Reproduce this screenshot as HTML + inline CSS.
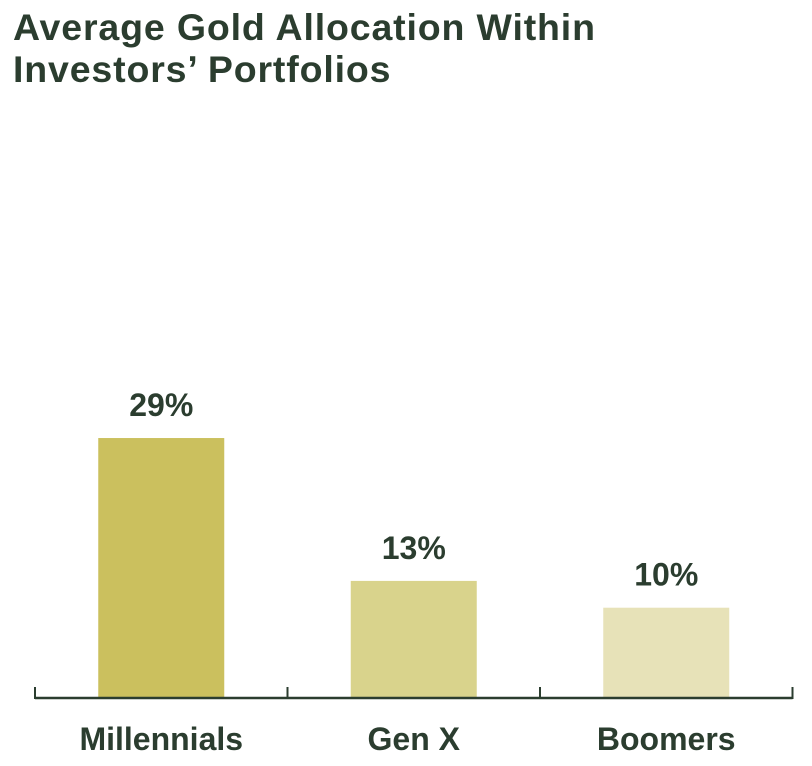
<!DOCTYPE html>
<html><head><meta charset="utf-8"><style>
body{margin:0;background:#fff;width:812px;height:766px;overflow:hidden;font-family:"Liberation Sans",Arial,sans-serif}
h1{position:absolute;left:13px;top:6px;margin:0;font-size:37.5px;line-height:42px;font-weight:bold;color:#2b3d2f;letter-spacing:0.85px}
svg{position:absolute;left:0;top:0}
</style></head><body>
<h1>Average Gold Allocation Within<br>Investors’ Portfolios</h1>
<svg id="c" width="812" height="766"></svg>
<script>
const categories=["Millennials","Gen X","Boomers"];
const values=[29,13,10];
const valueLabels=["29%","13%","10%"];
const colors=["#cbc05e","#d9d38c","#e7e2b8"];
const svg=document.getElementById('c');
const NS="http://www.w3.org/2000/svg";
const baseY=697, pxPer=8.93, x0=35, slot=252.5, barW=126;
const y=v=>baseY-v*pxPer;
function mk(t,a){const e=document.createElementNS(NS,t);for(const k in a)e.setAttribute(k,a[k]);svg.appendChild(e);return e;}
categories.forEach((c,i)=>{
  const cx=x0+slot*(i+0.5);
  const b=mk('rect',{x:cx-barW/2,y:y(values[i]),width:barW,height:baseY-y(values[i]),fill:colors[i]});
  
  
  const v=mk('text',{x:cx,y:y(values[i])-22,'text-anchor':'middle','font-size':32,'font-weight':'bold',fill:'#2b3d2f'});
  v.textContent=valueLabels[i];
  
  
  const l=mk('text',{x:cx,y:750,'text-anchor':'middle','font-size':32,'font-weight':'bold',fill:'#2b3d2f'});
  l.textContent=c;
  
  
});
const ax=mk('line',{x1:x0,x2:x0+slot*3,y1:baseY+1,y2:baseY+1,stroke:'#2b3d2f','stroke-width':2.5});


for(let i=0;i<=categories.length;i++){
  const t=mk('line',{x1:x0+slot*i,x2:x0+slot*i,y1:baseY-10,y2:baseY+2,stroke:'#2b3d2f','stroke-width':2});
  
  
}
</script>
</body></html>
